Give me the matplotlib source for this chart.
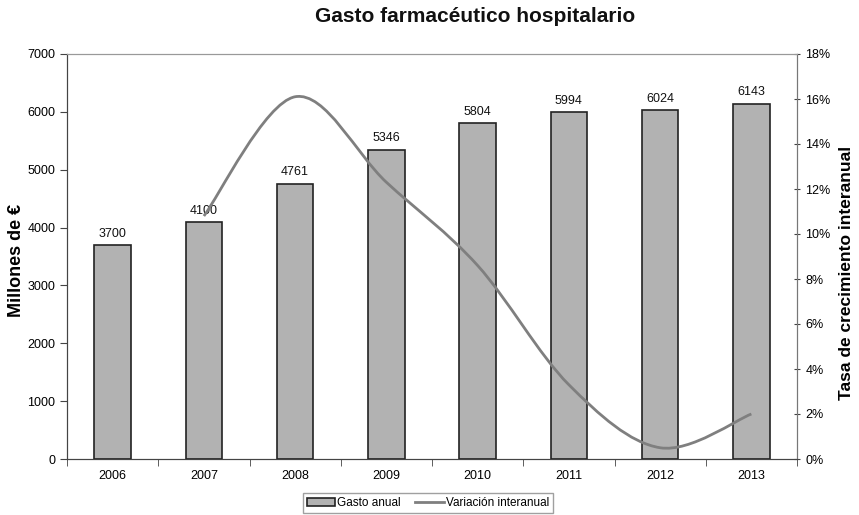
import numpy as np
import matplotlib.pyplot as plt
from matplotlib.path import Path
from matplotlib.patches import PathPatch
from matplotlib.lines import Line2D
from matplotlib.ticker import FuncFormatter

plt.rcParams['font.family'] = ['Liberation Sans', 'DejaVu Sans']

years = ['2006', '2007', '2008', '2009', '2010', '2011', '2012', '2013']
gasto = [3700, 4100, 4761, 5346, 5804, 5994, 6024, 6143]
# variacion interanual (%), desde 2007
var_years = ['2007', '2008', '2009', '2010', '2011', '2012', '2013']
variacion = [10.8, 16.1, 12.3, 8.6, 3.3, 0.5, 2.0]

fig = plt.figure(figsize=(8.59, 5.15), dpi=100)
ax = fig.add_axes([67/859, 1 - 459/515, 730/859, 405/515])
ax2 = ax.twinx()

x = np.arange(len(years))
bars = ax.bar(x, gasto, width=0.4, color='#b2b2b2', edgecolor='#222222', linewidth=1.2, zorder=2)
for xi, v in zip(x, gasto):
    ax.text(xi, v + 90, str(v), ha='center', va='bottom', fontsize=9, color='#111111')

ax.set_xlim(-0.5, len(years) - 0.5)
ax.set_ylim(0, 7000)
ax.set_yticks(range(0, 7001, 1000))
ax.set_xticks(x)
ax.set_xticklabels(years, fontsize=9)
ax.set_xticks(np.arange(-0.5, len(years), 1), minor=True)
ax.tick_params(axis='x', which='major', length=0, pad=8)
ax.tick_params(axis='x', which='minor', length=5, direction='out', color='#444444')
ax.tick_params(axis='y', labelsize=9, length=5, direction='out', color='#444444')
ax.set_ylabel('Millones de €', fontsize=13, fontweight='bold')
ax.yaxis.set_label_coords(-0.057, 0.49)

# curva suavizada tipo Excel (Bezier entre puntos)
px = np.array([years.index(y) for y in var_years], dtype=float)
py = np.array(variacion)
pts = np.column_stack([px, py])
ext = np.vstack([pts[0], pts, pts[-1]])
verts = [tuple(pts[0])]
codes = [Path.MOVETO]
for i in range(len(pts) - 1):
    p0, p1, p2, p3 = ext[i], ext[i + 1], ext[i + 2], ext[i + 3]
    c1 = p1 + (p2 - p0) / 6
    c2 = p2 - (p3 - p1) / 6
    verts += [tuple(c1), tuple(c2), tuple(p2)]
    codes += [Path.CURVE4] * 3
ax2.add_patch(PathPatch(Path(verts, codes), facecolor='none', edgecolor='#7f7f7f', linewidth=2, zorder=3))
ax2.set_ylim(0, 18)
ax2.set_yticks(range(0, 19, 2))
ax2.yaxis.set_major_formatter(FuncFormatter(lambda v, p: f'{int(v)}%'))
ax2.tick_params(axis='y', labelsize=9, length=5, direction='inout', color='#444444')
ax2.set_ylabel('Tasa de crecimiento interanual', fontsize=12.5, fontweight='bold')
ax2.yaxis.set_label_coords(1.058, 0.46)

for a in (ax, ax2):
    a.spines['top'].set_color('#999999')
    a.spines['left'].set_color('#444444')
    a.spines['right'].set_color('#777777')
    a.spines['bottom'].set_color('#444444')

fig.text(475/859, 1 - 17/515, 'Gasto farmacéutico hospitalario', ha='center', va='center',
         fontsize=15, fontweight='bold', color='#111111')

handles = [plt.Rectangle((0, 0), 1, 1, facecolor='#b2b2b2', edgecolor='#222222', linewidth=1.2),
           Line2D([0], [0], color='#7f7f7f', linewidth=2)]
leg = fig.legend(handles, ['Gasto anual', 'Variación interanual'], loc='center',
                 bbox_to_anchor=(428/859, 1 - 503/515), ncol=2, fontsize=8.5, frameon=True,
                 fancybox=False, edgecolor='#888888', handlelength=2.4, handleheight=0.6,
                 handletextpad=0.2, columnspacing=1.2, borderpad=0.3)
leg.get_frame().set_linewidth(1)

fig.savefig('out.png', dpi=100)
